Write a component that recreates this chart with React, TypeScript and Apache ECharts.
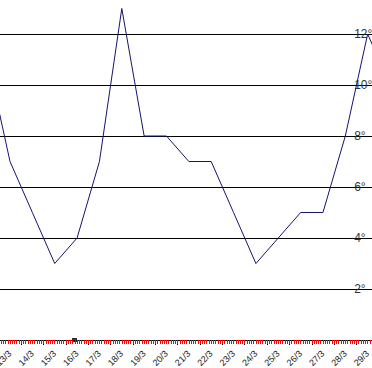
import React, { useEffect, useRef } from "react";
import * as echarts from "echarts";

const categories = [
  "12/3", "13/3", "14/3", "15/3", "16/3", "17/3", "18/3", "19/3", "20/3", "21/3",
  "22/3", "23/3", "24/3", "25/3", "26/3", "27/3", "28/3", "29/3", "30/3",
];
const temperatures = [11, 7, 5, 3, 4, 7, 13, 8, 8, 7, 7, 5, 3, 4, 5, 5, 8, 12, 10];
const minorPerCategory = 10;
const yMin = 0;
const yMax = 14;
const yInterval = 2;

export default function App() {
  const ref = useRef<HTMLDivElement>(null);
  useEffect(() => {
    if (!ref.current) return;
    const chart = echarts.init(ref.current, null, { renderer: "svg" });
    const minorCount = categories.length * minorPerCategory;
    const gridLayout = {
      left: -23.5,
      right: -29.2,
      top: -17,
      bottom: 28,
      containLabel: false,
      outerBoundsMode: "none",
    };
    chart.setOption({
      animation: false,
      backgroundColor: "#ffffff",
      grid: [gridLayout, { ...gridLayout }],
      xAxis: [
        {
          type: "category",
          gridIndex: 0,
          position: "bottom",
          data: categories,
          boundaryGap: true,
          axisLine: { show: true, lineStyle: { color: "#000", width: 1 } },
          axisTick: { show: true, length: 5, interval: 0, lineStyle: { color: "#000" } },
          axisLabel: {
            interval: 0,
            rotate: 45,
            margin: 12,
            fontSize: 9,
            fontFamily: "Liberation Sans, Arial, sans-serif",
            color: "#222",
            hideOverlap: false,
          },
          splitLine: { show: false },
          z: 3,
        },
        {
          type: "value",
          gridIndex: 1,
          position: "bottom",
          min: 0,
          max: minorCount,
          interval: 1,
          axisLine: { show: false },
          axisTick: { show: true, length: 4, lineStyle: { color: "#ff0000", width: 1 } },
          axisLabel: { show: false },
          splitLine: { show: false },
          z: 4,
        },
      ],
      yAxis: [
        {
          type: "value",
          gridIndex: 0,
          position: "right",
          min: yMin,
          max: yMax,
          interval: yInterval,
          axisLine: { show: false },
          axisTick: { show: false },
          axisLabel: {
            inside: true,
            align: "left",
            margin: 47,
            fontSize: 12,
            fontFamily: "Liberation Sans, Arial, sans-serif",
            color: "#333",
            showMinLabel: false,
            showMaxLabel: false,
            formatter: "{value}°",
          },
          splitLine: { show: true, lineStyle: { color: "#000", width: 1 } },
        },
        {
          type: "value",
          gridIndex: 1,
          min: yMin,
          max: yMax,
          show: false,
        },
      ],
      series: [
        {
          type: "line",
          xAxisIndex: 0,
          yAxisIndex: 0,
          data: temperatures,
          showSymbol: false,
          symbol: "none",
          lineStyle: { color: "#14146e", width: 1 },
          z: 4,
        },
      ],
      graphic: [
        {
          type: "rect",
          shape: { x: 72, y: 338, width: 5, height: 4 },
          style: { fill: "#333" },
        },
      ],
    });
    return () => chart.dispose();
  }, []);
  return (
    <div
      ref={ref}
      style={{ position: "absolute", left: 0, top: 0, width: 372, height: 368, background: "#fff" }}
    />
  );
}
